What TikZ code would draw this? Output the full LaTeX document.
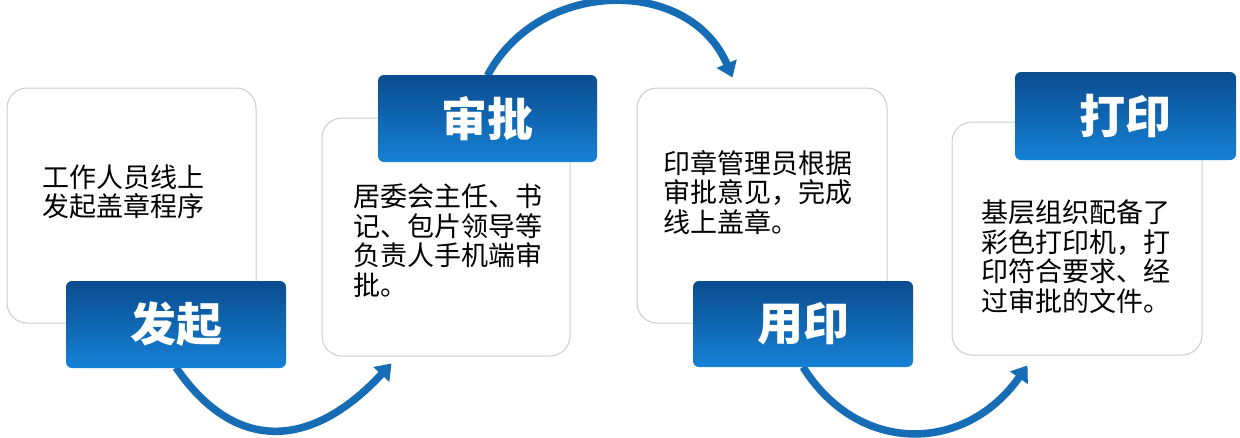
\documentclass[tikz,border=0pt]{standalone}
\usepackage{fontspec}
\setmainfont{Noto Sans CJK SC}
\usetikzlibrary{arrows.meta,calc}
\definecolor{boxline}{HTML}{CCCCCC}
\definecolor{labtop}{HTML}{0A4C8E}
\definecolor{labbot}{HTML}{1681D6}
\definecolor{arrowc}{HTML}{176CB6}
\tikzset{
  card/.style={draw=boxline, line width=1pt, fill=white, rounded corners=20pt, inner sep=0pt},
  stage/.style={rounded corners=6pt, top color=labtop, bottom color=labbot, inner sep=0pt,
    text=white, font=\fontsize{46}{50}\selectfont\bfseries},
  body/.style={anchor=west, align=left, inner sep=0pt, font=\fontsize{27}{29.5}\selectfont},
  flow/.style={draw=arrowc, line width=7.5pt, -{Triangle[length=15pt,width=21pt]}}
}
\begin{document}
\begin{tikzpicture}[x=1pt,y=-1pt]
\useasboundingbox[fill=white] (0,0) rectangle (1240,437);
% cards
\node[card, minimum width=249pt, minimum height=235pt] (b1) at (131.5,205.5) {};
\node[card, minimum width=248pt, minimum height=238pt] (b2) at (446,237) {};
\node[card, minimum width=250pt, minimum height=235pt] (b3) at (762,205.5) {};
\node[card, minimum width=250pt, minimum height=233pt] (b4) at (1077,238.5) {};
% texts
\node[body] (t1) at (42,192) {工作人员线上\\发起盖章程序};
\node[body] (t2) at (353,240.5) {居委会主任、书\\记、包片领导等\\负责人手机端审\\批。};
\node[body] (t3) at (663,192.5) {印章管理员根据\\审批意见，完成\\线上盖章。};
\node[body] (t4) at (981,256.5) {基层组织配备了\\彩色打印机，打\\印符合要求、经\\过审批的文件。};
% arrow end points
\coordinate (e1) at ($(b2.south west)+(70,7)$);
\coordinate (e2) at ($(b3.north west)+(96,-10)$);
\coordinate (e3) at ($(b4.south west)+(76,10)$);
% label positions
\coordinate (p1) at (176,324.5);
\coordinate (p2) at (487.5,118.5);
\coordinate (p3) at (803,324);
\coordinate (p4) at (1125.5,116);
% arrows
\draw[flow] ($(p1)+(0,43)$) .. controls (234,452) and (310,451) .. (e1);
\draw[flow] ($(p2)+(0,-43)$) .. controls (540,-23) and (690,-23) .. (e2);
\draw[flow] ($(p3)+(0,43)$) .. controls (858,455) and (965,454) .. (e3);
% labels
\node[stage, minimum width=220pt, minimum height=87pt] (l1) at (p1) {发起};
\node[stage, minimum width=219pt, minimum height=87pt] (l2) at (p2) {审批};
\node[stage, minimum width=220pt, minimum height=86pt] (l3) at (p3) {用印};
\node[stage, minimum width=221pt, minimum height=88pt] (l4) at (p4) {打印};
\end{tikzpicture}
\end{document}
